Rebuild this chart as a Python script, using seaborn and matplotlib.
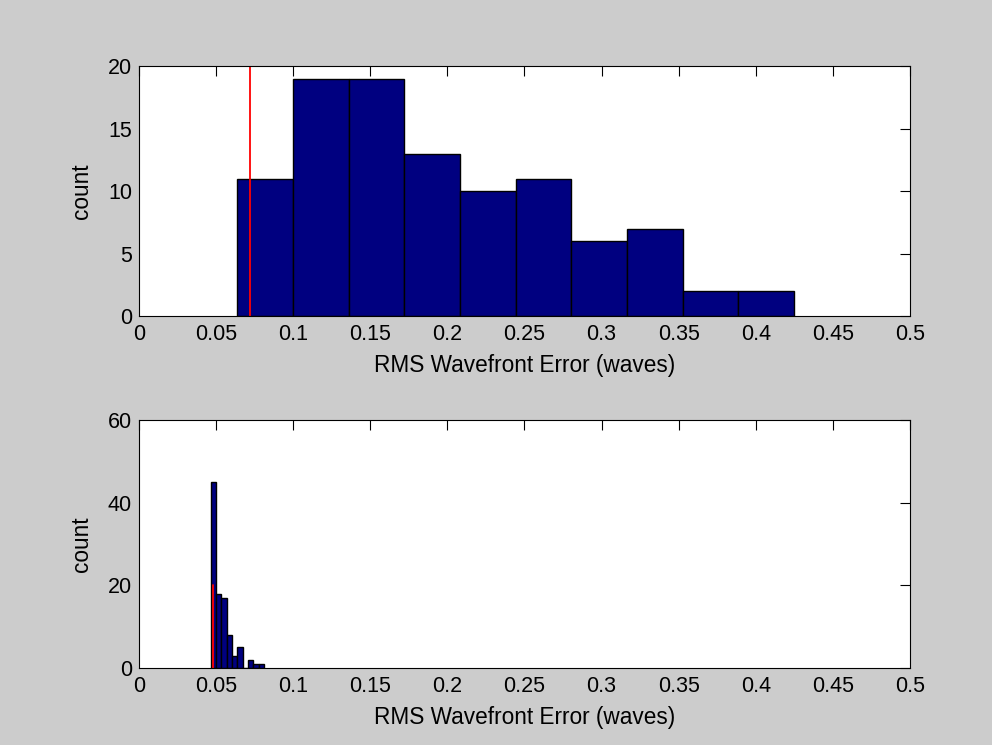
"""
Histogramas del error RMS de frente de onda (antes / después)
"""

import matplotlib
matplotlib.use('Agg')
import matplotlib.pyplot as plt
import seaborn as sns
import numpy as np
import pandas as pd

# Datos: bordes de bins y conteos
top_edges = [0.0637, 0.0998, 0.1359, 0.1720, 0.2081, 0.2442, 0.2803, 0.3164, 0.3525, 0.3886, 0.4248]
top_counts = [11, 19, 19, 13, 10, 11, 6, 7, 2, 2]
top_marker = 0.072

bottom_edges = [0.0465, 0.0500, 0.0534, 0.0569, 0.0603, 0.0638, 0.0673, 0.0707, 0.0742, 0.0776, 0.0811]
bottom_counts = [45, 18, 17, 8, 3, 5, 0, 2, 1, 1]
bottom_marker = 0.0478

marker_height = [0, 20]

x_ticks = [0, 0.05, 0.1, 0.15, 0.2, 0.25, 0.3, 0.35, 0.4, 0.45, 0.5]
x_ticklabels = ['0', '0.05', '0.1', '0.15', '0.2', '0.25', '0.3', '0.35', '0.4', '0.45', '0.5']
top_yticks = [0, 5, 10, 15, 20]
bottom_yticks = [0, 20, 40, 60]

sns.set_style('white')
plt.rcParams['font.family'] = ['Liberation Sans', 'DejaVu Sans']
plt.rcParams['font.size'] = 15

fig = plt.figure(figsize=(9.92, 7.45), dpi=100, facecolor='#cccccc')
ax_top = fig.add_axes([0.1401, 0.5758, 0.7772, 0.3356])
ax_bot = fig.add_axes([0.1401, 0.1034, 0.7772, 0.3329])


def draw_hist(ax, edges, counts, marker, yticks):
    e = np.array(edges)
    centers = (e[:-1] + e[1:]) / 2
    df = pd.DataFrame({'x': centers, 'n': counts})
    sns.histplot(data=df, x='x', weights='n', bins=list(edges), ax=ax,
                 color='#000080', edgecolor='black', linewidth=1, alpha=1)
    ax.plot([marker, marker], marker_height, color='red', linewidth=1.3)
    ax.set_xlim(0, 0.5)
    ax.set_ylim(yticks[0], yticks[-1])
    ax.set_xticks(x_ticks)
    ax.set_xticklabels(x_ticklabels)
    ax.set_yticks(yticks)
    ax.set_xlabel('RMS Wavefront Error (waves)', fontsize=16.3, labelpad=6, color='black')
    ax.set_ylabel('count', fontsize=16.3, labelpad=11, color='black')
    ax.tick_params(direction='in', top=True, right=True, length=7, width=0.8,
                   labelsize=15.5, colors='black')
    ax.tick_params(axis='x', pad=6)
    ax.tick_params(axis='y', pad=5)
    for sp in ax.spines.values():
        sp.set_visible(True)
        sp.set_color('black')
        sp.set_linewidth(0.8)
    ax.set_facecolor('white')


draw_hist(ax_top, top_edges, top_counts, top_marker, top_yticks)
draw_hist(ax_bot, bottom_edges, bottom_counts, bottom_marker, bottom_yticks)

fig.savefig('out.png', dpi=100, facecolor=fig.get_facecolor())
